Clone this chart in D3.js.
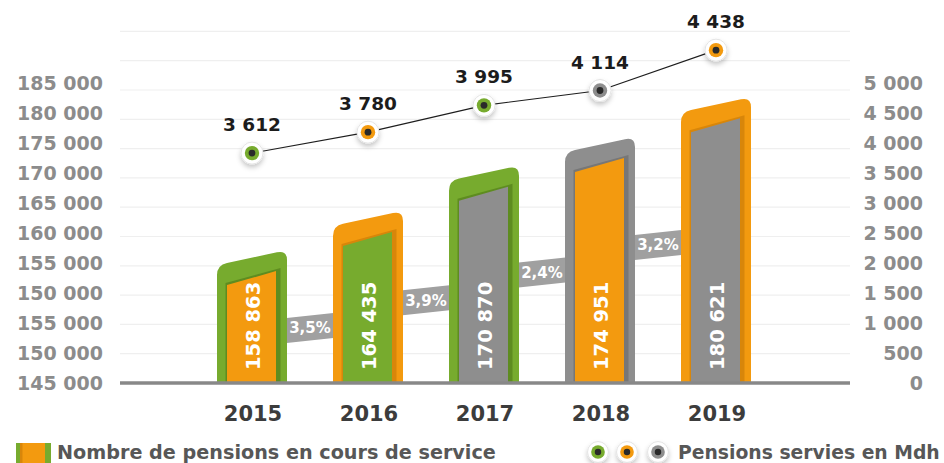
<!DOCTYPE html>
<html><head><meta charset="utf-8">
<script src="https://cdn.jsdelivr.net/npm/d3@7"></script>
<style>
html,body{margin:0;padding:0;background:#fff;}
svg{display:block;font-family:"DejaVu Sans",sans-serif;font-weight:bold;}
</style></head><body>
<svg id="chart" width="944" height="463"></svg>
<script>
// ---------- data ----------
const years = ["2015","2016","2017","2018","2019"];
const pensionsCount = [158863,164435,170870,174951,180621];
const pensionsMdh = [3612,3780,3995,4114,4438];
const growthLabels = ["3,5%","3,9%","2,4%","3,2%"];
const leftTickLabels = ["145 000","150 000","155 000","150 000","155 000","160 000","165 000","170 000","175 000","180 000","185 000"];
const rightTickValues = [0,500,1000,1500,2000,2500,3000,3500,4000,4500,5000];
const legendLabels = ["Nombre de pensions en cours de service","Pensions servies en Mdh"];

// ---------- styles ----------
const COL = {green:"#77ab2e", orange:"#f39a0f", gray:"#8e8e8e"};
const DARK = {green:"#5e8c20", orange:"#d8860a", gray:"#777777"};
const outerKey = ["green","orange","green","gray","orange"];
const innerKey = ["orange","green","gray","orange","gray"];

const fr = d3.formatLocale({decimal:",", thousands:" ", grouping:[3], currency:["","€"]});
const fmt = fr.format(",d");

const svg = d3.select("#chart");
const defs = svg.append("defs");
const f = defs.append("filter").attr("id","sh").attr("x","-60%").attr("y","-60%").attr("width","220%").attr("height","240%");
f.append("feDropShadow").attr("dx",0).attr("dy",3).attr("stdDeviation",2.8).attr("flood-color","#000").attr("flood-opacity",0.22);

// ---------- scales ----------
const base = 382;
const x = d3.scalePoint().domain(years).range([252,716]);
const yBar = d3.scaleLinear().domain([140100,185000]).range([base, base-315.6]);
const yLine = d3.scaleLinear().domain([3600,4500]).range([154.6,42.4]);
const yGrid = d3.scaleLinear().domain([0,5000]).range([383,90]);
const yRight = d3.scaleLinear().domain([0,5000]).range([383,83]);
const yLeft = d3.scaleLinear().domain([0,leftTickLabels.length-1]).range([383,83]);

// ---------- grid ----------
svg.append("g").selectAll("line").data(d3.range(500,6001,500)).join("line")
  .attr("x1",120).attr("x2",850).attr("y1",d=>yGrid(d)).attr("y2",d=>yGrid(d))
  .attr("stroke","#efefef").attr("stroke-width",1.2);

// ---------- axes ----------
const gL = svg.append("g").attr("transform","translate(103,0)")
  .call(d3.axisLeft(yLeft).tickValues(d3.range(leftTickLabels.length)).tickFormat(i=>leftTickLabels[i]).tickSize(0).tickPadding(0));
const gR = svg.append("g").attr("transform","translate(923,0)")
  .call(d3.axisLeft(yRight).tickValues(rightTickValues).tickFormat(fmt).tickSize(0).tickPadding(0));
[gL,gR].forEach(g=>{
  g.select(".domain").remove();
  g.attr("font-family","DejaVu Sans").attr("font-size",19).attr("font-weight","bold");
  g.selectAll("text").attr("fill","#8c8c8c").attr("dy","0.36em");
});

// ---------- growth bands ----------
const bandG = svg.append("g");
growthLabels.forEach((lab,i)=>{
  const x0 = x(years[i])+30, x1 = x(years[i+1])-30;
  const yc = 328 - i*27.7, h = 12.5, tilt = 3;
  bandG.append("path")
    .attr("d",`M${x0},${yc+tilt-h} L${x1},${yc-tilt-h} L${x1},${yc-tilt+h} L${x0},${yc+tilt+h} Z`)
    .attr("fill","#a0a0a0");
  bandG.append("text").attr("x",(x0+x1)/2).attr("y",yc).attr("dy","0.36em")
    .attr("text-anchor","middle").attr("fill","#fff").attr("font-size",15).text(lab);
});

// ---------- bars ----------
const barG = svg.append("g");
years.forEach((yr,i)=>{
  const cx = x(yr), yR = yBar(pensionsCount[i]);
  const w = 70, x0 = cx-35, x1 = cx+35, rise = 15, r = 10, k = rise/w, yL = yR+rise;
  barG.append("path")
    .attr("d",`M${x0},${base} L${x0},${yL+r} Q${x0},${yL} ${x0+r},${yL-k*r} L${x1-r},${yR+k*r} Q${x1},${yR} ${x1},${yR+r} L${x1},${base} Z`)
    .attr("fill",COL[outerKey[i]]);
  const yiR = yR+21, yiL = yiR+14;
  const xs0 = cx-26.5, xs1 = cx+28.5;
  barG.append("path")
    .attr("d",`M${xs0},${base} L${xs0},${yiL-2} L${xs1},${yiR-3} L${xs1},${base} Z`)
    .attr("fill",DARK[outerKey[i]]);
  const xi0 = cx-25, xi1 = cx+24;
  barG.append("path")
    .attr("d",`M${xi0},${base} L${xi0},${yiL} L${xi1},${yiR} L${xi1},${base} Z`)
    .attr("fill",COL[innerKey[i]]);
  barG.append("text").attr("transform",`translate(${cx+8.3},370) rotate(-90)`)
    .attr("text-anchor","start").attr("fill","#fff").attr("font-size",19.5).text(fmt(pensionsCount[i]));
  svg.append("text").attr("x",cx+1).attr("y",421).attr("text-anchor","middle")
    .attr("fill","#3c3c3c").attr("font-size",21).text(yr);
});

// baseline
svg.append("line").attr("x1",120).attr("x2",850).attr("y1",383).attr("y2",383)
  .attr("stroke","#888").attr("stroke-width",3.5);

// ---------- line ----------
const line = d3.line().x((d,i)=>x(years[i])).y(d=>yLine(d));
svg.append("path").attr("d",line(pensionsMdh)).attr("fill","none").attr("stroke","#1e1e1e").attr("stroke-width",1.1);

function marker(g, cx, cy, color, s){
  g.append("circle").attr("cx",cx).attr("cy",cy).attr("r",11*s).attr("fill","#fff")
    .attr("stroke","#e4e4e4").attr("stroke-width",1).attr("filter","url(#sh)");
  g.append("circle").attr("cx",cx).attr("cy",cy).attr("r",7.2*s).attr("fill",color);
  g.append("circle").attr("cx",cx).attr("cy",cy).attr("r",3.4*s).attr("fill","#2a2a2a");
}
const mG = svg.append("g");
pensionsMdh.forEach((v,i)=>{
  const cx = x(years[i]), cy = yLine(v);
  marker(mG, cx, cy, COL[outerKey[i]], 1);
  svg.append("text").attr("x",cx).attr("y",cy-22).attr("text-anchor","middle")
    .attr("fill","#1c1c1c").attr("font-size",18.5).text(fmt(v));
});

// ---------- legend ----------
svg.append("rect").attr("x",16).attr("y",443).attr("width",35).attr("height",25).attr("fill",COL.green);
svg.append("rect").attr("x",20).attr("y",443).attr("width",3).attr("height",25).attr("fill",DARK.orange);
svg.append("rect").attr("x",22.5).attr("y",443).attr("width",22.5).attr("height",25).attr("fill",COL.orange);
function fitText(t, target){
  const len = t.node().getComputedTextLength();
  t.attr("font-size", 20*target/len);
}
const t1 = svg.append("text").attr("x",57).attr("y",459).attr("fill","#575757").attr("font-size",20).text(legendLabels[0]);
fitText(t1, 439);
["green","orange","gray"].forEach((c,i)=>{
  marker(svg, [598,627,658][i], 452, COL[c], 0.95);
});
const t2 = svg.append("text").attr("x",678).attr("y",459).attr("fill","#575757").attr("font-size",20).text(legendLabels[1]);
fitText(t2, 262);
</script>
</body></html>
